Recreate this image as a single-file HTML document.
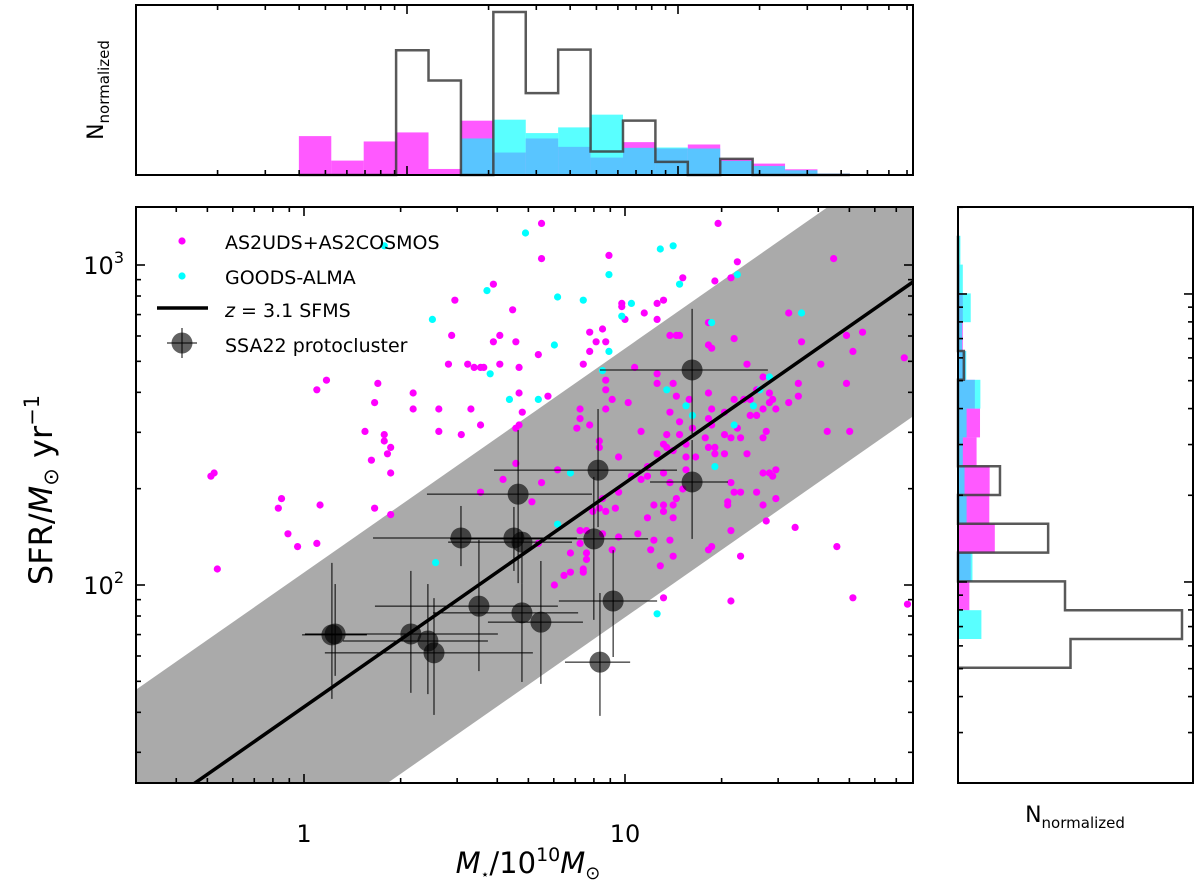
<!DOCTYPE html>
<html><head><meta charset="utf-8"><style>
html,body{margin:0;padding:0;background:#fff;overflow:hidden;width:1200px;height:885px;}
svg{display:block;font-family:"DejaVu Sans","Liberation Sans",sans-serif;}
</style></head><body>
<svg id="fig" width="1200" height="885" viewBox="0 0 1200 885" xmlns="http://www.w3.org/2000/svg">
<defs><clipPath id="mainclip"><rect x="136" y="207" width="777" height="576"/></clipPath></defs>
<g id="top-hist"></g>
<g id="main"></g>
<g id="right-hist"></g>
</svg>
<script>
// ---------- data (log10 stellar mass /1e10 Msun, log10 SFR) ----------
const magLogM=[0.59,0.47,0.65,0.46,0.61,0.59,0.66,0.45,0.51,0.53,0.55,0.56,0.61,0.67,0.04,0.07,0.23,0.22,0.34,0.34,0.42,0.52,0.67,0.68,0.19,0.25,0.25,0.27,0.26,0.21,0.27,0.42,0.49,0.55,0.66,0.66,0.62,0.55,-0.29,-0.28,-0.07,-0.08,0.05,-0.05,-0.02,0.04,0.22,0.27,-0.27,
0.74,1.29,0.74,0.95,1.35,1.18,1.28,1.33,1.65,1.10,1.12,0.99,0.99,1.00,1.06,1.10,0.89,0.93,0.91,0.94,0.89,0.87,0.73,0.76,1.51,1.55,1.69,1.74,1.71,1.87,1.61,1.54,1.69,1.54,1.51,1.63,1.70,1.14,1.16,1.17,1.26,1.26,1.27,1.34,1.38,1.03,1.10,1.10,1.15,1.16,1.20,1.26,1.27,1.31,1.34,1.37,1.39,1.41,1.43,1.45,1.46,1.45,1.43,1.47,1.39,1.41,0.94,0.94,0.96,1.01,0.94,0.86,0.86,0.85,0.89,0.67,1.05,1.14,1.17,1.21,1.26,1.27,0.92,0.92,1.13,1.17,1.12,1.13,1.15,1.10,1.19,1.19,1.22,1.25,1.26,1.28,1.28,1.31,1.31,1.33,1.36,1.38,1.43,1.44,1.35,0.98,1.07,0.79,1.12,1.02,1.05,1.07,1.19,1.14,1.18,1.33,1.34,1.36,1.41,1.43,1.45,1.46,1.47,1.47,1.43,1.32,1.32,1.44,1.53,0.74,0.71,0.98,0.93,0.92,0.90,0.94,0.97,1.09,1.12,1.12,1.15,1.16,1.07,1.15,0.86,0.88,0.93,0.98,1.04,1.09,1.14,0.86,0.83,0.88,0.88,0.96,1.08,1.15,1.11,1.26,1.27,1.33,1.36,0.81,0.83,0.87,0.87,0.78,0.73,1.12,1.33,1.71,1.88,1.66];
const magLogSFR=[2.94,2.89,2.86,2.78,2.78,2.76,2.76,2.69,2.69,2.68,2.68,2.68,2.69,2.68,2.61,2.64,2.63,2.57,2.60,2.55,2.55,2.55,2.60,2.54,2.48,2.47,2.45,2.43,2.41,2.39,2.35,2.48,2.47,2.50,2.49,2.38,2.33,2.29,2.34,2.35,2.27,2.24,2.25,2.16,2.12,2.13,2.24,2.22,2.05,
3.13,3.13,3.02,3.03,3.01,2.96,2.95,2.96,3.02,2.88,2.89,2.88,2.87,2.83,2.85,2.83,2.79,2.80,2.76,2.76,2.73,2.69,2.72,2.59,2.85,2.76,2.78,2.79,2.73,2.71,2.69,2.63,2.63,2.59,2.57,2.48,2.48,2.78,2.78,2.78,2.82,2.75,2.74,2.77,2.69,2.68,2.66,2.63,2.63,2.59,2.58,2.60,2.55,2.54,2.58,2.58,2.58,2.61,2.65,2.60,2.58,2.57,2.55,2.55,2.53,2.53,2.64,2.61,2.58,2.57,2.55,2.55,2.52,2.49,2.50,2.50,2.48,2.54,2.51,2.49,2.52,2.50,2.45,2.43,2.47,2.47,2.44,2.43,2.42,2.41,2.44,2.40,2.40,2.46,2.43,2.43,2.41,2.41,2.47,2.46,2.46,2.41,2.46,2.48,2.49,2.40,2.37,2.36,2.35,2.34,2.33,2.34,2.36,2.32,2.30,2.32,2.29,2.29,2.29,2.35,2.35,2.34,2.36,2.27,2.25,2.26,2.25,2.20,2.18,2.32,2.26,2.29,2.27,2.24,2.23,2.23,2.24,2.25,2.25,2.23,2.25,2.27,2.21,2.21,2.17,2.17,2.16,2.15,2.16,2.14,2.14,2.13,2.10,2.10,2.08,2.11,2.11,2.09,2.06,2.11,2.12,2.17,2.09,2.03,2.04,2.05,2.04,2.00,2.13,1.96,1.95,1.96,1.94,2.12];
const cyanLogM=[0.69,0.25,0.57,0.40,0.58,0.64,0.41,1.11,1.15,0.95,0.79,0.87,1.02,0.99,1.35,1.17,1.55,1.27,0.78,0.95,0.93,0.73,1.13,1.19,1.21,1.45,1.42,1.40,1.34,1.28,0.83,0.79,1.10];
const cyanLogSFR=[3.10,3.06,2.92,2.83,2.66,2.58,2.07,3.05,3.06,2.97,2.90,2.89,2.88,2.84,2.97,2.94,2.85,2.82,2.75,2.73,2.67,2.58,2.61,2.56,2.53,2.65,2.61,2.56,2.50,2.37,2.35,2.19,1.91];
const pcLogM=[0.916,0.667,0.489,0.654,0.679,0.903,0.545,0.679,0.738,0.963,0.922,0.087,0.097,0.333,0.386,0.405,1.209,1.209];
const pcLogMLo=[0.592,0.383,0.215,0.274,0.449,0.455,0.221,0.402,0.573,0.794,0.813,-0.006,0.003,0.224,0.121,0.065,0.922,1.078];
const pcLogMHi=[1.162,0.897,0.651,0.850,0.835,1.072,0.791,0.854,0.869,1.100,1.016,0.196,0.300,0.604,0.573,0.713,1.445,1.321];
const pcLogSFR=[2.359,2.284,2.147,2.147,2.134,2.144,1.934,1.913,1.884,1.950,1.759,1.844,1.847,1.847,1.825,1.788,2.672,2.322];
const pcLogSFRLo=[2.181,2.006,2.059,2.044,2.006,1.891,1.731,1.697,1.691,1.775,1.591,1.644,1.716,1.663,1.659,1.594,2.472,2.144];
const pcLogSFRHi=[2.550,2.484,2.247,2.244,2.166,2.338,2.141,2.006,2.075,2.109,1.975,2.069,2.003,2.044,2.003,1.959,2.863,2.453];
const sfmsNorm=1.619, sfmsSlope=0.7, sfmsScatter=0.42;
const topBinStart=-0.399, topBinWidth=0.1196;
const topMag=[116,43,100,127,18,162,67,109,84,52,98,79,91,48,34,17,4];
const topCyan=[0,0,0,0,0,109,165,125,142,180,81,82,79,42,27,14,4];
const topPC=[0,0,0,372,282,0,486,244,374,70,162,39,0,48,0,0,0];
const rightBinStart=0.1, rightBinWidth=0.1;
const rightMag=[3,5,14,14,22,49,64,54,92,91,107,37,33,0,0];
const rightCyan=[7,14,37,12,24,65,25,14,19,25,0,42,0,68,0];
const rightPC=[0,0,0,0,17,0,0,0,122,0,262,0,311,651,327];

const NS="http://www.w3.org/2000/svg";
function mk(parent,tag,attrs){const e=document.createElementNS(NS,tag);for(const k in attrs)e.setAttribute(k,attrs[k]);parent.appendChild(e);return e;}
function txt(parent,x,y,s,attrs,name){const t=mk(parent,'text',Object.assign({x:x,y:y,'font-size':22,fill:'#000'},attrs||{}));t.innerHTML=s;
 
 return t;}
const X=v=>304+321*v, Y=v=>585-320*(v-2);
const XMIN=-0.523,XMAX=1.897;
const mainG=document.getElementById('main');
const band=mk(mainG,'polygon',{points:[[XMIN,sfmsNorm+sfmsSlope*XMIN+sfmsScatter],[XMAX,sfmsNorm+sfmsSlope*XMAX+sfmsScatter],[XMAX,sfmsNorm+sfmsSlope*XMAX-sfmsScatter],[XMIN,sfmsNorm+sfmsSlope*XMIN-sfmsScatter]].map(p=>X(p[0])+','+Y(p[1])).join(' '),fill:'#aaaaaa','clip-path':'url(#mainclip)'});


for(let i=0;i<magLogM.length;i++){const c=mk(mainG,'circle',{cx:X(magLogM[i]),cy:Y(magLogSFR[i]),r:3.6,fill:'#ff00ff','clip-path':'url(#mainclip)'});

}
for(let i=0;i<cyanLogM.length;i++){const c=mk(mainG,'circle',{cx:X(cyanLogM[i]),cy:Y(cyanLogSFR[i]),r:3.6,fill:'#00ffff','clip-path':'url(#mainclip)'});

}
const ln=mk(mainG,'line',{x1:X(XMIN),y1:Y(sfmsNorm+sfmsSlope*XMIN),x2:X(XMAX),y2:Y(sfmsNorm+sfmsSlope*XMAX),stroke:'#000','stroke-width':3.5,'clip-path':'url(#mainclip)'});


for(let i=0;i<pcLogM.length;i++){
 const g=mk(mainG,'g',{'clip-path':'url(#mainclip)'});
 
 
 mk(g,'line',{x1:X(pcLogMLo[i]),x2:X(pcLogMHi[i]),y1:Y(pcLogSFR[i]),y2:Y(pcLogSFR[i]),stroke:'#000','stroke-width':1});
 mk(g,'line',{x1:X(pcLogM[i]),x2:X(pcLogM[i]),y1:Y(pcLogSFRLo[i]),y2:Y(pcLogSFRHi[i]),stroke:'#000','stroke-width':1});
 mk(g,'circle',{cx:X(pcLogM[i]),cy:Y(pcLogSFR[i]),r:10.5,fill:'rgba(0,0,0,0.62)'});
}
const fr=mk(mainG,'rect',{x:136,y:207,width:777,height:576,fill:'none',stroke:'#000','stroke-width':2});


const xTickVals=[0.3,0.4,0.5,0.6,0.7,0.8,0.9,1,2,3,4,5,6,7,8,9,10,20,30,40,50,60,70];
xTickVals.forEach(v=>{const lv=Math.log10(v);const maj=Math.abs(lv-Math.round(lv))<1e-9;const L=maj?9:5;const x=X(lv);
 mk(mainG,'line',{x1:x,x2:x,y1:783,y2:783-L,stroke:'#000','stroke-width':1.6});
 mk(mainG,'line',{x1:x,x2:x,y1:207,y2:207+L,stroke:'#000','stroke-width':1.6});});
const yTickVals=[30,40,50,60,70,80,90,100,200,300,400,500,600,700,800,900,1000];
yTickVals.forEach(v=>{const lv=Math.log10(v);const maj=Math.abs(lv-Math.round(lv))<1e-9;const L=maj?9:5;const y=Y(lv);
 mk(mainG,'line',{x1:136,x2:136+L,y1:y,y2:y,stroke:'#000','stroke-width':1.6});
 mk(mainG,'line',{x1:913,x2:913-L,y1:y,y2:y,stroke:'#000','stroke-width':1.6});});

txt(mainG,304,842,'1',{'text-anchor':'middle','font-size':24},'x-tick-label-1');
txt(mainG,625,842,'10',{'text-anchor':'middle','font-size':24},'x-tick-label-10');
txt(mainG,124,594,'10<tspan font-size="16" dy="-11">2</tspan>',{'text-anchor':'end','font-size':24},'y-tick-label-100');
txt(mainG,124,274,'10<tspan font-size="16" dy="-11">3</tspan>',{'text-anchor':'end','font-size':24},'y-tick-label-1000');
txt(mainG,528,873,'<tspan font-style="italic">M</tspan><tspan font-size="14" dy="6">⋆</tspan><tspan dy="-6">/10</tspan><tspan font-size="19" dy="-12">10</tspan><tspan dy="12" font-style="italic">M</tspan><tspan font-size="18" dy="6">⊙</tspan>',{'text-anchor':'middle','font-size':29},'x-axis-title');
txt(mainG,52,490,'SFR/<tspan font-style="italic">M</tspan><tspan font-size="21" dy="6">⊙</tspan><tspan dy="-6"> yr</tspan><tspan font-size="21" dy="-13">−1</tspan>',{'text-anchor':'middle','font-size':32,transform:'rotate(-90 52 490)'},'y-axis-title');
const leg=mk(mainG,'g',{});


mk(leg,'circle',{cx:182,cy:241,r:3.6,fill:'#ff00ff'});
mk(leg,'circle',{cx:182,cy:276,r:3.6,fill:'#00ffff'});
mk(leg,'line',{x1:157,x2:208,y1:308,y2:308,stroke:'#000','stroke-width':3.5});
mk(leg,'line',{x1:182,x2:182,y1:328,y2:358,stroke:'#000','stroke-width':1});
mk(leg,'line',{x1:167,x2:197,y1:343,y2:343,stroke:'#000','stroke-width':1});
mk(leg,'circle',{cx:182,cy:343,r:10.5,fill:'rgba(0,0,0,0.62)'});
txt(leg,225,249,'AS2UDS+AS2COSMOS',{'font-size':19},'legend-as2uds');
txt(leg,225,284,'GOODS-ALMA',{'font-size':19},'legend-goods-alma');
txt(leg,225,317,'<tspan font-style="italic">z</tspan> = 3.1 SFMS',{'font-size':19},'legend-sfms');
txt(leg,225,352,'SSA22 protocluster',{'font-size':19},'legend-protocluster');

// ---------- top histogram ----------
const topG=document.getElementById('top-hist');
const U=u=>407+271*u, TH=v=>175-170*v/507;
function topBars(arr,col,name){arr.forEach((h,i)=>{if(h<=0)return;const x0=U(topBinStart+i*topBinWidth),x1=U(topBinStart+(i+1)*topBinWidth);
 const r=mk(topG,'rect',{x:x0,y:TH(h),width:x1-x0,height:175-TH(h),fill:col});
 
 });}
topBars(topMag,'rgba(255,0,255,0.65)','top-hist-bar-as2uds');
topBars(topCyan,'rgba(0,255,255,0.65)','top-hist-bar-goods');
{let d='M'+U(topBinStart)+','+TH(0);const n=topPC.length;
 for(let i=0;i<n;i++){const x0=U(topBinStart+i*topBinWidth),x1=U(topBinStart+(i+1)*topBinWidth);d+=' L'+x0+','+TH(topPC[i])+' L'+x1+','+TH(topPC[i]);}
 d+=' L'+U(topBinStart+n*topBinWidth)+','+TH(0);
 const p=mk(topG,'path',{d:d,fill:'none',stroke:'rgba(60,60,60,0.85)','stroke-width':2.5});
 
 }
mk(topG,'rect',{x:136,y:5,width:777,height:170,fill:'none',stroke:'#000','stroke-width':2});
for(let d=-1;d<=1;d++){for(let m=1;m<=9;m++){const u=d+Math.log10(m);if(u<-1||u>1.867)continue;const L=m===1?9:5;const x=U(u);
 mk(topG,'line',{x1:x,x2:x,y1:175,y2:175-L,stroke:'#000','stroke-width':1.6});
 mk(topG,'line',{x1:x,x2:x,y1:5,y2:5+L,stroke:'#000','stroke-width':1.6});}}
txt(topG,103,90,'N<tspan font-size="15" dy="6">normalized</tspan>',{'text-anchor':'middle','font-size':22,transform:'rotate(-90 103 90)'},'top-hist-y-title');

// ---------- right histogram ----------
const rh=document.getElementById('right-hist');
const V=v=>207+288*v, W=w=>958+235*w/683;
function rightBars(arr,col,name){arr.forEach((w,i)=>{if(w<=0)return;const y0=V(rightBinStart+i*rightBinWidth),y1=V(rightBinStart+(i+1)*rightBinWidth);
 const r=mk(rh,'rect',{x:958,y:y0,width:W(w)-958,height:y1-y0,fill:col});
 
 });}
rightBars(rightMag,'rgba(255,0,255,0.65)','right-hist-bar-as2uds');
rightBars(rightCyan,'rgba(0,255,255,0.65)','right-hist-bar-goods');
{let d='M'+W(0)+','+V(rightBinStart);const n=rightPC.length;
 for(let i=0;i<n;i++){const y0=V(rightBinStart+i*rightBinWidth),y1=V(rightBinStart+(i+1)*rightBinWidth);d+=' L'+W(rightPC[i])+','+y0+' L'+W(rightPC[i])+','+y1;}
 d+=' L'+W(0)+','+V(rightBinStart+n*rightBinWidth);
 const p=mk(rh,'path',{d:d,fill:'none',stroke:'rgba(60,60,60,0.85)','stroke-width':2.5});
 
 }
mk(rh,'rect',{x:958,y:207,width:235,height:576,fill:'none',stroke:'#000','stroke-width':2});
[0.302,1.302,2.302].forEach(base=>{for(let m=1;m<=9;m++){const v=base-Math.log10(m);if(v<0||v>2)continue;const L=m===1?9:5;const y=V(v);
 mk(rh,'line',{x1:958,x2:958+L,y1:y,y2:y,stroke:'#000','stroke-width':1.6});
 mk(rh,'line',{x1:1193,x2:1193-L,y1:y,y2:y,stroke:'#000','stroke-width':1.6});}});
txt(rh,1075,822,'N<tspan font-size="15" dy="6">normalized</tspan>',{'text-anchor':'middle','font-size':22},'right-hist-x-title');
</script>
</body></html>
